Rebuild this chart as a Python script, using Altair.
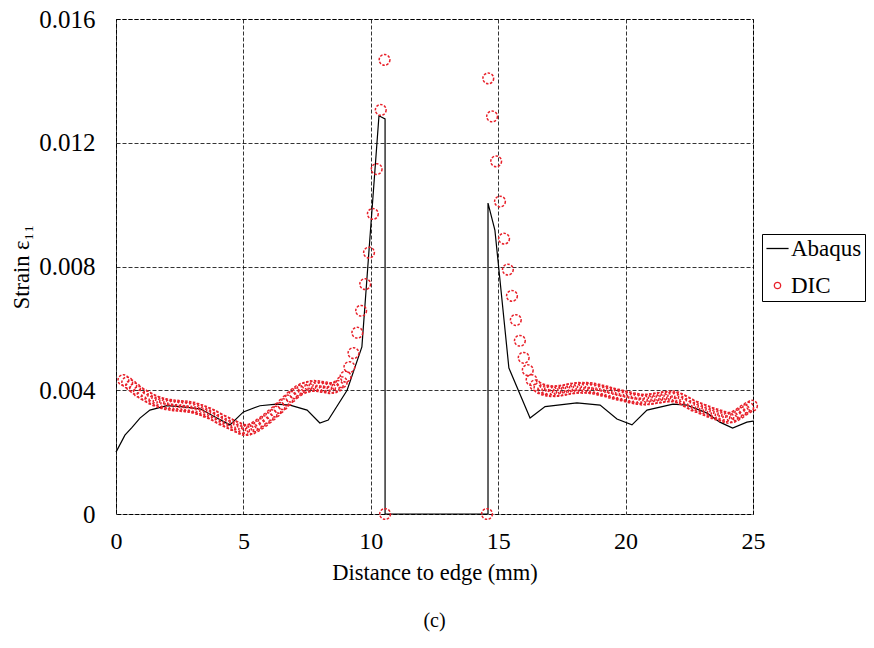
import altair as alt
import pandas as pd

# ---- Abaqus (line) ----
abaqus_x = [0.0, 0.35, 0.63, 0.94, 1.33, 2.0, 2.63, 3.3, 3.96, 4.47, 5.0, 5.65, 6.3, 6.83,
            7.5, 8.0, 8.33, 9.07, 9.65, 10.32, 10.56, 10.56, 14.6, 14.6, 14.87, 15.42,
            16.25, 16.84, 18.09, 19.0, 19.66, 20.25, 20.84, 21.86, 22.41, 23.2, 23.7,
            24.2, 24.76, 25.0]
abaqus_y = [0.0020, 0.00255, 0.0028, 0.0031, 0.00336, 0.0035, 0.00346, 0.0034, 0.0031,
            0.00288, 0.0033, 0.0035, 0.00355, 0.00352, 0.00336, 0.00294, 0.00304, 0.0040,
            0.0054, 0.01287, 0.01277, 0.0, 0.0, 0.01005, 0.00918, 0.00472, 0.0031,
            0.00347, 0.00359, 0.00352, 0.00307, 0.00288, 0.00336, 0.00355, 0.00352,
            0.00326, 0.00297, 0.00278, 0.00297, 0.0030]

# ---- DIC (points), left of the hole ----
dic_left_x = [0.29, 0.44, 0.60, 0.75, 0.90, 1.05, 1.21, 1.36, 1.51, 1.67, 1.82, 1.97, 2.13,
              2.28, 2.43, 2.58, 2.74, 2.89, 3.04, 3.20, 3.35, 3.50, 3.66, 3.81, 3.96, 4.11,
              4.27, 4.42, 4.57, 4.73, 4.88, 5.03, 5.19, 5.34, 5.49, 5.64, 5.80, 5.95, 6.10,
              6.26, 6.41, 6.56, 6.72, 6.87, 7.02, 7.17, 7.33, 7.48, 7.63, 7.79, 7.94, 8.09,
              8.25, 8.40, 8.55, 8.70, 8.86, 9.01, 9.16, 9.32, 9.47, 9.62, 9.78, 9.93, 10.08,
              10.23, 10.39, 10.54]
dic_left_y = [0.00433, 0.00425, 0.00415, 0.00405, 0.00395, 0.00387, 0.0038, 0.00373, 0.00367,
              0.00362, 0.00358, 0.00355, 0.00353, 0.00351, 0.0035, 0.00349, 0.00348, 0.00346,
              0.00344, 0.0034, 0.00336, 0.00331, 0.00326, 0.0032, 0.00313, 0.00306, 0.0030,
              0.00294, 0.00288, 0.00282, 0.00276, 0.00272, 0.00272, 0.00276, 0.00283,
              0.00291, 0.0030, 0.0031, 0.0032, 0.00331, 0.00343, 0.00355, 0.00367, 0.00379,
              0.0039, 0.00399, 0.00406, 0.0041, 0.00413, 0.00414, 0.00413, 0.00411, 0.00409,
              0.00407, 0.00408, 0.00414, 0.00426, 0.00444, 0.00475, 0.0052, 0.00586, 0.00657,
              0.00743, 0.00845, 0.0097, 0.01115, 0.01306, 0.01468]

# ---- DIC (points), right of the hole ----
dic_right_x = [14.61, 14.76, 14.92, 15.07, 15.23, 15.38, 15.54, 15.69, 15.85, 16.00, 16.16,
               16.31, 16.46, 16.62, 16.77, 16.93, 17.08, 17.24, 17.39, 17.55, 17.70, 17.85,
               18.01, 18.16, 18.32, 18.47, 18.63, 18.78, 18.94, 19.09, 19.25, 19.40, 19.55,
               19.71, 19.86, 20.02, 20.17, 20.33, 20.48, 20.64, 20.79, 20.94, 21.10, 21.25,
               21.41, 21.56, 21.72, 21.87, 22.03, 22.18, 22.34, 22.49, 22.64, 22.80, 22.95,
               23.11, 23.26, 23.42, 23.57, 23.73, 23.88, 24.03, 24.19, 24.34, 24.50, 24.65,
               24.81, 24.96]
dic_right_y = [0.01408, 0.01285, 0.0114, 0.0101, 0.0089, 0.0079, 0.00705, 0.00627, 0.0056,
               0.00505, 0.00465, 0.00433, 0.00416, 0.00407, 0.00402, 0.00399, 0.00397,
               0.00397, 0.00398, 0.0040, 0.00403, 0.00405, 0.00407, 0.00408, 0.00408,
               0.00408, 0.00407, 0.00405, 0.00402, 0.00399, 0.00396, 0.00392, 0.00389,
               0.00386, 0.00383, 0.0038, 0.00377, 0.00374, 0.00372, 0.0037, 0.0037, 0.00371,
               0.00373, 0.00375, 0.00377, 0.00379, 0.0038, 0.0038, 0.00377, 0.00372, 0.00365,
               0.00358, 0.00351, 0.00346, 0.00341, 0.00336, 0.00331, 0.00326, 0.00322,
               0.00318, 0.00314, 0.00311, 0.00313, 0.00319, 0.00327, 0.00336, 0.00344, 0.0035]

# ---- DIC points at zero (hole edges) ----
dic_zero_x = [10.56, 14.56]
dic_zero_y = [0.0, 0.0]

series_names = ["Abaqus", "DIC"]
x_ticks = [0, 5, 10, 15, 20, 25]
y_ticks = [0, 0.004, 0.008, 0.012, 0.016]

FONT = "Liberation Serif"

abaqus_df = pd.DataFrame({"x": abaqus_x, "y": abaqus_y, "order": list(range(len(abaqus_x))),
                          "series": "Abaqus"})
dic_df = pd.DataFrame({
    "x": dic_left_x + dic_zero_x + dic_right_x,
    "y": dic_left_y + dic_zero_y + dic_right_y,
    "series": "DIC",
})

x_enc = alt.X("x:Q", scale=alt.Scale(domain=[0, 25], nice=False),
              axis=alt.Axis(values=x_ticks, title="Distance to edge (mm)", format="d",
                            labelFontSize=24, labelPadding=15, titlePadding=8,
                            labelFlush=False))
y_enc = alt.Y("y:Q", scale=alt.Scale(domain=[0, 0.016], nice=False),
              axis=alt.Axis(values=y_ticks, title="Strain ε₁₁", format=".3~f",
                            labelFontSize=25, labelPadding=21, titlePadding=5,
                            labelFlush=False))

legend_cfg = dict(
    title=None, orient="none", legendX=646, legendY=215,
    strokeColor="black", fillColor="white", padding=3,
    symbolOffset=1, labelOffset=2, rowPadding=13,
    labelFont=FONT, labelFontSize=23, labelColor="black",
    symbolSize=40, symbolStrokeWidth=1.3,
)

line = alt.Chart(abaqus_df).mark_line(color="black", strokeWidth=1.2).encode(
    x=x_enc, y=y_enc, order="order:Q")

points = alt.Chart(dic_df).mark_point(
    filled=False, size=115, strokeWidth=1.5, strokeDash=[2.5, 1.5], opacity=1
).encode(
    x="x:Q", y="y:Q",
    color=alt.Color("series:N",
                    scale=alt.Scale(domain=series_names, range=["black", "#e8202a"]),
                    legend=alt.Legend(**legend_cfg)),
    shape=alt.Shape("series:N",
                    scale=alt.Scale(domain=series_names, range=["M-3.5,0H3.5", "circle"]),
                    legend=alt.Legend(**legend_cfg)),
)

chart = alt.layer(line, points).properties(
    width=637, height=495,
    autosize=alt.AutoSizeParams(type="none"),
    padding={"left": 108, "top": 11, "right": 113, "bottom": 120},
    title=alt.TitleParams("(c)", orient="bottom", font=FONT, fontSize=20,
                          fontWeight="normal", color="black", offset=27, anchor="middle"),
).configure_view(
    stroke="black", strokeWidth=1, strokeDash=[4, 2]
).configure_axis(
    domain=False, ticks=False, grid=True, gridColor="black", gridDash=[4, 2],
    gridWidth=0.8, gridOpacity=1,
    labelFont=FONT, labelColor="black",
    titleFont=FONT, titleFontSize=22.5, titleFontWeight="normal", titleColor="black",
)

chart.save("out.html", embed_options={"renderer": "svg", "actions": False})
